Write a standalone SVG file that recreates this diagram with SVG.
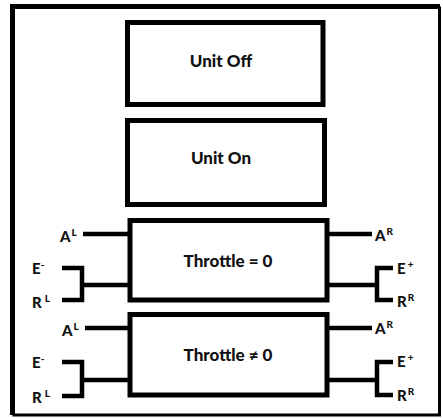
<svg xmlns="http://www.w3.org/2000/svg" width="443" height="418" viewBox="0 0 443 418">
<style>
.box{fill:#fff;stroke:#000;stroke-width:5}
.frame{fill:none;stroke:#000}
.ln{fill:none;stroke:#000;stroke-width:4.5;stroke-linecap:butt;stroke-linejoin:miter}
.t{font-family:Lato,"Open Sans","Liberation Sans",sans-serif;font-weight:900;font-size:17px;fill:#111;text-anchor:middle}
.lb{font-family:Lato,"Open Sans","Liberation Sans",sans-serif;font-weight:900;font-size:15px;fill:#111}
.sup{font-size:10px}
</style>
<rect width="443" height="418" fill="#fff"/>
<g id="frame">
<path class="frame" stroke-width="5" d="M12.5,415 V6.5 H440"/>
<path class="frame" stroke-width="3" d="M439.5,6.5 V415 H12.5"/>
</g>
<g id="connectors">
<path class="ln" d="M83,234 H130"/>
<path class="ln" d="M62,268 H82 V300 H62 M82,285 H130"/>
<path class="ln" d="M85,328 H130"/>
<path class="ln" d="M62,362 H82 V396 H62 M82,380 H130"/>
<path class="ln" d="M327,234 H372"/>
<path class="ln" d="M393,268 H377 V300 H393 M377,285 H327"/>
<path class="ln" d="M327,328 H372"/>
<path class="ln" d="M393,362 H377 V395 H393 M377,380 H327"/>
</g>
<g id="unit-off">
<rect class="box" x="127.5" y="22.5" width="195.5" height="82"/>
<text class="t" x="221" y="67">Unit Off</text>
</g>
<g id="unit-on">
<rect class="box" x="127.5" y="120.5" width="197" height="84"/>
<text class="t" x="221" y="164">Unit On</text>
</g>
<g id="throttle-zero">
<rect class="box" x="130" y="220.5" width="197" height="79.5"/>
<text class="t" x="228" y="267">Throttle = 0</text>
</g>
<g id="throttle-nonzero">
<rect class="box" x="130" y="314.5" width="197" height="80.5"/>
<text class="t" x="228" y="361">Throttle ≠ 0</text>
</g>
<g id="labels">
<text class="lb" x="60" y="242">A<tspan class="sup" dx="1" dy="-6">L</tspan></text>
<text class="lb" x="32" y="274">E<tspan class="sup" dy="-6">-</tspan></text>
<text class="lb" x="32" y="308">R<tspan class="sup" dx="3" dy="-6">L</tspan></text>
<text class="lb" x="62" y="336">A<tspan class="sup" dx="1" dy="-6">L</tspan></text>
<text class="lb" x="32" y="368">E<tspan class="sup" dy="-6">-</tspan></text>
<text class="lb" x="32" y="403">R<tspan class="sup" dx="3" dy="-6">L</tspan></text>
<text class="lb" x="375" y="241">A<tspan class="sup" dx="1" dy="-6">R</tspan></text>
<text class="lb" x="397" y="274">E<tspan class="sup" dx="2" dy="-6">+</tspan></text>
<text class="lb" x="397" y="307">R<tspan class="sup" dx="1" dy="-6">R</tspan></text>
<text class="lb" x="375" y="334">A<tspan class="sup" dx="1" dy="-6">R</tspan></text>
<text class="lb" x="397" y="367">E<tspan class="sup" dx="2" dy="-6">+</tspan></text>
<text class="lb" x="397" y="401">R<tspan class="sup" dx="1" dy="-6">R</tspan></text>
</g>
</svg>
